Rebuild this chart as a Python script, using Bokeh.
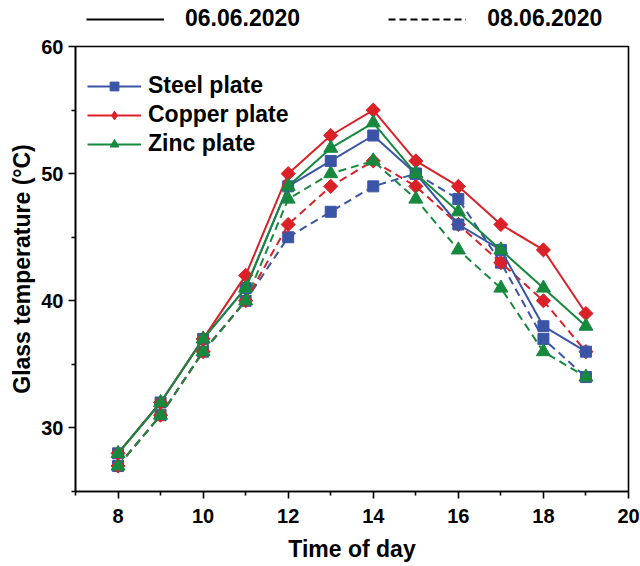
import math
from bokeh.plotting import figure
from bokeh.models import Legend, LegendItem, FixedTicker, ColumnDataSource, Range1d
from bokeh.layouts import column
from bokeh.embed import file_html
from bokeh.resources import INLINE

hours = [8, 9, 10, 11, 12, 13, 14, 15, 16, 17, 18, 19]
steel_0606 = [28, 32, 37, 41, 49, 51, 53, 50, 46, 44, 38, 36]
copper_0606 = [28, 32, 37, 42, 50, 53, 55, 51, 49, 46, 44, 39]
zinc_0606 = [28, 32, 37, 41, 49, 52, 54, 50, 47, 44, 41, 38]
steel_0806 = [27, 31, 36, 40, 45, 47, 49, 50, 48, 43, 37, 34]
copper_0806 = [27, 31, 36, 40, 46, 49, 51, 49, 46, 43, 40, 36]
zinc_0806 = [27, 31, 36, 40, 48, 50, 51, 48, 44, 41, 36, 34]
series_names = ["Steel plate", "Copper plate", "Zinc plate"]
date_labels = ["06.06.2020", "08.06.2020"]
x_major = [8, 10, 12, 14, 16, 18, 20]
x_minor = [7, 9, 11, 13, 15, 17, 19]
y_major = [30, 40, 50, 60]
y_minor = [25, 35, 45, 55]

BLUE = "#3a55a6"
RED = "#db2128"
GREEN = "#17893f"
FONT = "Liberation Sans"

p = figure(width=640, height=532, output_backend="svg", toolbar_location=None,
           x_range=Range1d(7, 20), y_range=Range1d(25, 60),
           min_border_left=75, min_border_right=12, min_border_top=12, min_border_bottom=75)
p.grid.visible = False
p.outline_line_color = "black"
p.outline_line_width = 1.6
p.background_fill_color = "white"
p.border_fill_color = "white"

for ax in (p.xaxis[0], p.yaxis[0]):
    ax.axis_line_width = 1.6
    ax.major_tick_line_width = 1.6
    ax.minor_tick_line_width = 1.6
    ax.major_tick_out = 7
    ax.major_tick_in = 0
    ax.minor_tick_out = 4
    ax.minor_tick_in = 0
    ax.major_label_text_font = FONT
    ax.major_label_text_font_style = "bold"
    ax.major_label_text_font_size = "20px"
    ax.major_label_text_color = "black"
    ax.axis_label_text_font = FONT
    ax.axis_label_text_font_style = "bold"
    ax.axis_label_text_font_size = "23px"
    ax.axis_label_text_color = "black"

p.xaxis.ticker = FixedTicker(ticks=x_major, minor_ticks=x_minor)
p.yaxis.ticker = FixedTicker(ticks=y_major, minor_ticks=y_minor)
p.xaxis.axis_label = "Time of day"
p.yaxis.axis_label = "Glass temperature (\u00b0C)"
p.xaxis.major_label_standoff = 10
p.yaxis.major_label_standoff = 5
p.xaxis.axis_label_standoff = 10
p.yaxis.axis_label_standoff = 3

# (solid, dashed, colour, plot marker, size, angle, legend marker, legend size)
specs = [
    (steel_0606, steel_0806, BLUE, "square", 11, 0.0, "square", 11),
    (copper_0606, copper_0806, RED, "square", 10, math.pi / 4, "diamond", 16),
    (zinc_0606, zinc_0806, GREEN, "triangle", 14, 0.0, "triangle", 14),
]

for (solid_vals, dashed_vals, color, marker, size, ang, lm, ls), name in zip(specs, series_names):
    src2 = ColumnDataSource(dict(x=hours, y=dashed_vals))
    p.line("x", "y", source=src2, line_color=color, line_width=2, line_dash="8 5")
    p.scatter("x", "y", source=src2, marker=marker, size=size, angle=ang,
              fill_color=color, line_color=color)

nan = float("nan")
legend_items = []
for (solid_vals, dashed_vals, color, marker, size, ang, lm, ls), name in zip(specs, series_names):
    src1 = ColumnDataSource(dict(x=hours, y=solid_vals))
    l1 = p.line("x", "y", source=src1, line_color=color, line_width=2)
    p.scatter("x", "y", source=src1, marker=marker, size=size, angle=ang,
              fill_color=color, line_color=color)
    key = p.scatter("x", "y", source=ColumnDataSource(dict(x=[nan], y=[nan])),
                    marker=lm, size=ls, fill_color=color, line_color=color)
    legend_items.append(LegendItem(label=name, renderers=[l1, key]))

legend = Legend(items=legend_items, location=(12, 334), margin=0, padding=0,
                glyph_width=54, glyph_height=22, label_height=22, spacing=2,
                label_standoff=7, label_text_font=FONT, label_text_font_style="bold",
                label_text_font_size="23px", label_text_color="black",
                background_fill_alpha=0, border_line_alpha=0)
p.add_layout(legend)

# top strip with the date key
top = figure(width=640, height=34, output_backend="svg", toolbar_location=None,
             x_range=Range1d(0, 1), y_range=Range1d(0, 1),
             x_axis_type=None, y_axis_type=None, min_border=0)
top.grid.visible = False
top.outline_line_color = None
top.background_fill_color = "white"
top.border_fill_color = "white"
key_src = ColumnDataSource(dict(x=[nan], y=[nan]))
k1 = top.line("x", "y", source=key_src, line_color="black", line_width=2)
k2 = top.line("x", "y", source=key_src, line_color="black", line_width=2, line_dash="7 4")
top_legend = Legend(items=[LegendItem(label=date_labels[0], renderers=[k1]),
                           LegendItem(label=date_labels[1], renderers=[k2])],
                    location=(11, 2), orientation="horizontal", margin=0, padding=0,
                    glyph_width=78, glyph_height=22, label_height=22, spacing=88,
                    label_standoff=21, label_text_font=FONT, label_text_font_style="bold",
                    label_text_font_size="23px", label_text_color="black",
                    background_fill_alpha=0, border_line_alpha=0)
top.add_layout(top_legend)

layout = column(top, p, spacing=0)
open("out.html", "w").write(file_html(layout, INLINE))
